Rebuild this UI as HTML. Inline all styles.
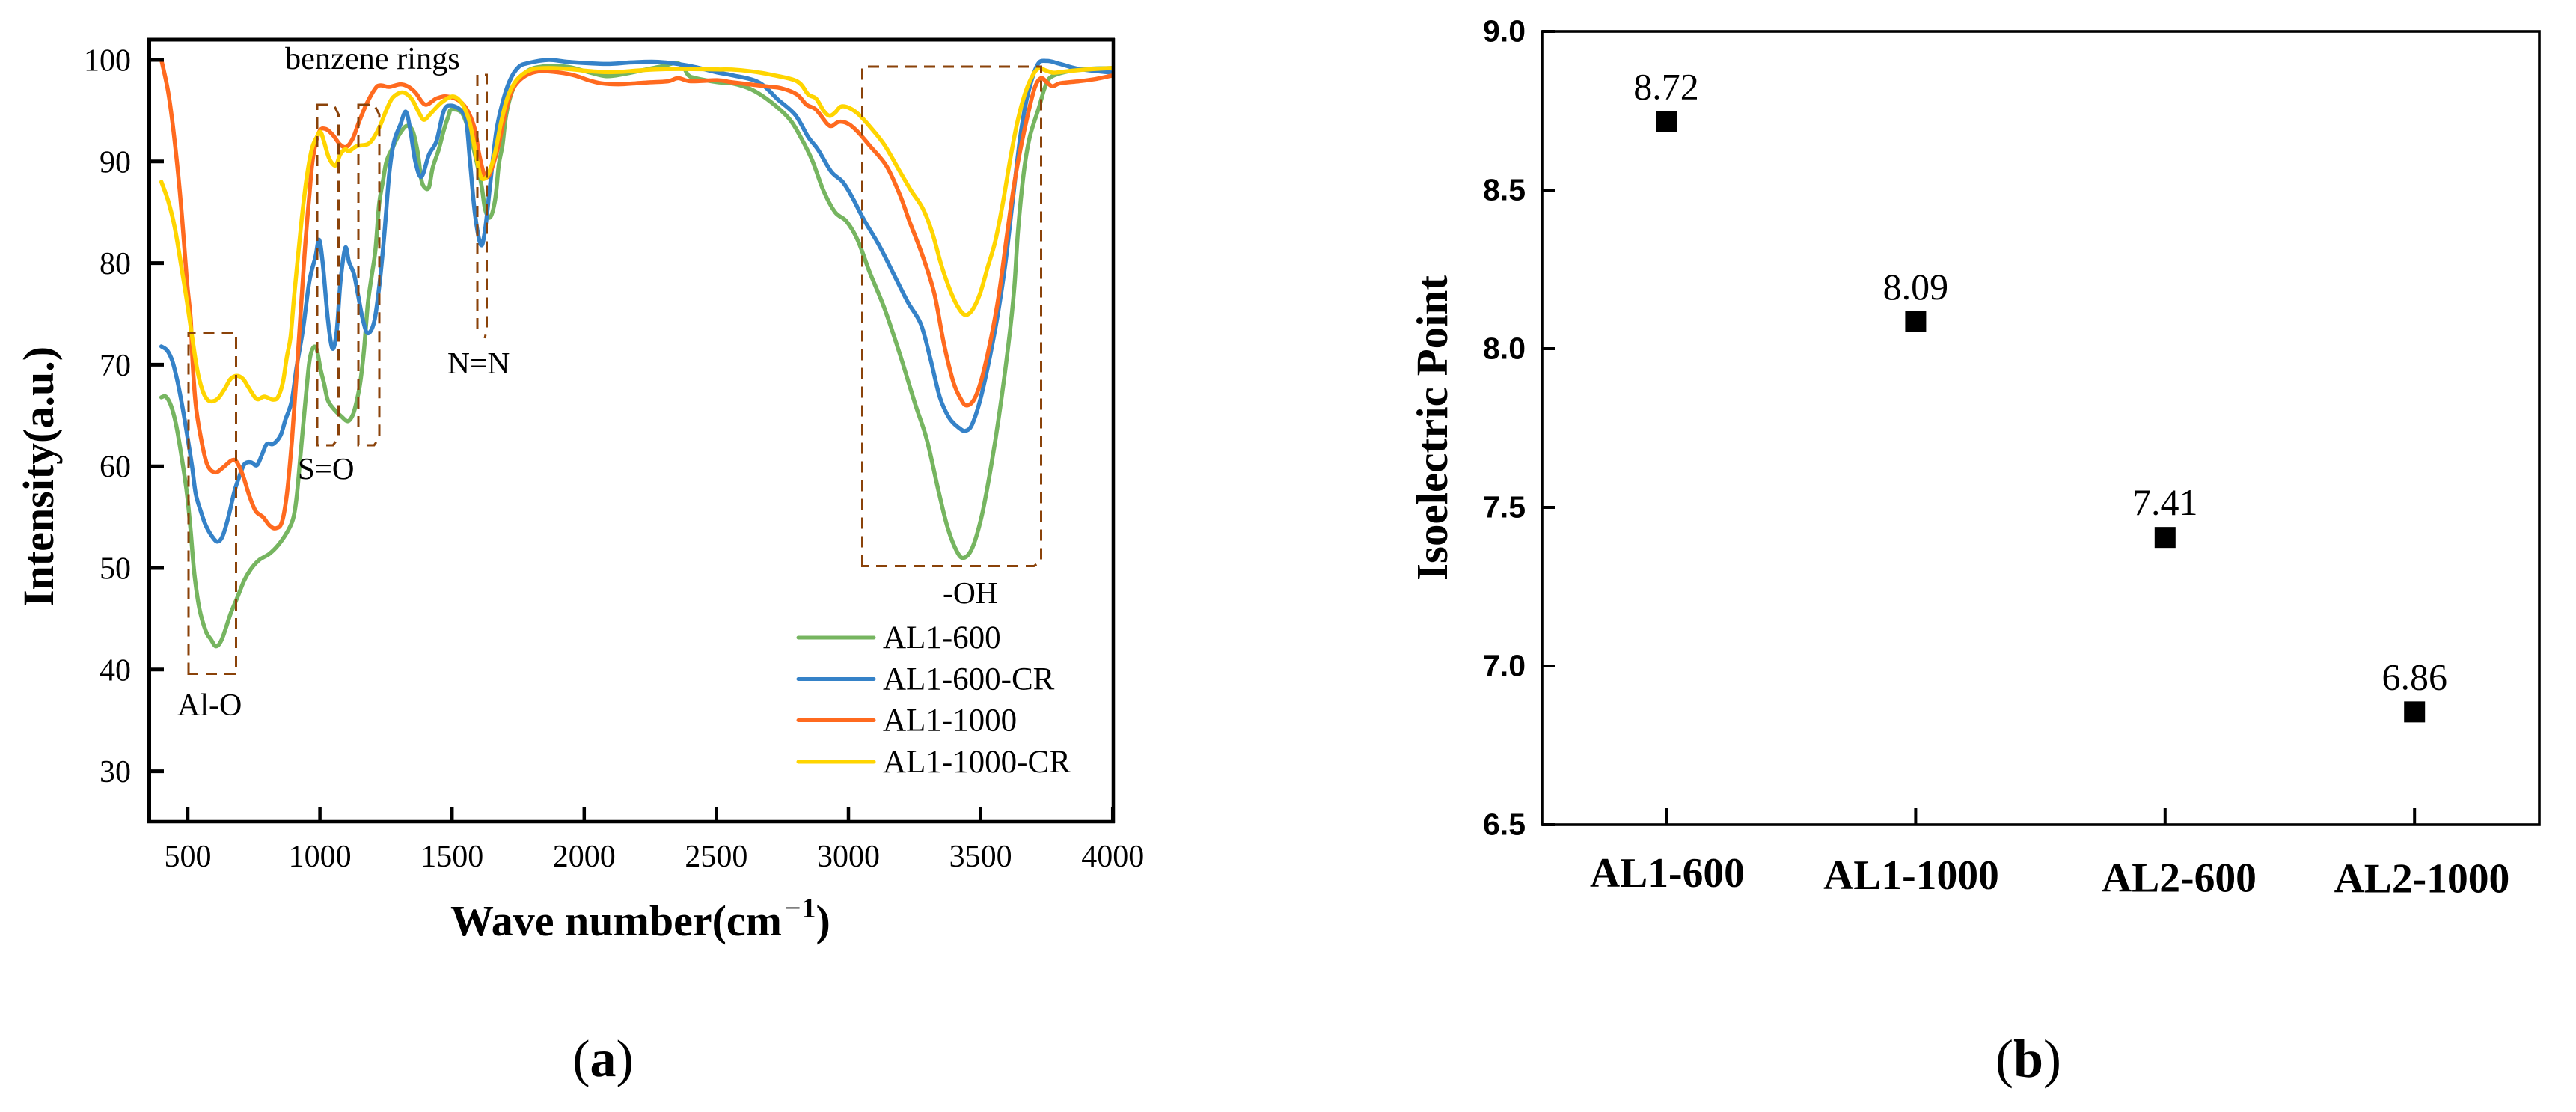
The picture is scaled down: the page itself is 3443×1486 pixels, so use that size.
<!DOCTYPE html>
<html lang="en">
<head>
<meta charset="utf-8">
<title>FTIR spectra and isoelectric point</title>
<style>
  html, body { margin: 0; padding: 0; background: #fff; }
  svg { display: block; }
  text { font-family: "Liberation Serif", serif; fill: #000; }
  .sans { font-family: "Liberation Sans", sans-serif; font-weight: bold; }
  .box { fill: none; stroke: #8a4209; stroke-width: 3; stroke-dasharray: 15 10; }
  .curve { fill: none; stroke-width: 5.5; stroke-linejoin: round; stroke-linecap: round; }
  .axis { stroke: #000; fill: none; }
</style>
</head>
<body>
<svg id="figure" xmlns="http://www.w3.org/2000/svg" width="3443" height="1486" viewBox="0 0 3443 1486">
  <rect x="0" y="0" width="3443" height="1486" fill="#fff"/>

  <g id="panelA">
    <g id="curvesA"></g>
    <g id="ticksA"></g>
    <line class="axis" x1="199" y1="51" x2="199" y2="1100" stroke-width="6"/>
    <line class="axis" x1="196" y1="53" x2="1490" y2="53" stroke-width="5"/>
    <line class="axis" x1="1488" y1="51" x2="1488" y2="1100" stroke-width="4.5"/>
    <line class="axis" x1="196" y1="1098" x2="1490" y2="1098" stroke-width="4.5"/>

    <path class="box" d="M252 900.5 V445 H315.5 V900.5 Z"/>
    <path class="box" d="M424 140 H446 L452.5 153 V585 L445 595 H424 Z"/>
    <path class="box" d="M479 140 H500 L507 153 V585 L500 595 H479 Z"/>
    <path class="box" d="M638 440 V100 H650.5 V440 L648 452"/>
    <path class="box" d="M1152.5 756.5 V89 H1391.5 V750 L1382 756.5 Z"/>

    <text x="381" y="92" font-size="42.3">benzene rings</text>
    <text x="398" y="640" font-size="41">S=O</text>
    <text x="598" y="499" font-size="41.5">N=N</text>
    <text x="237" y="956" font-size="42">Al-O</text>
    <text x="1260" y="806" font-size="41.5">-OH</text>

    <g>
      <line x1="1067" y1="852" x2="1168" y2="852" stroke="#76b560" stroke-width="5" stroke-linecap="round"/>
      <text x="1180" y="866" font-size="43">AL1-600</text>
      <line x1="1067" y1="907.5" x2="1168" y2="907.5" stroke="#3582c8" stroke-width="5" stroke-linecap="round"/>
      <text x="1180" y="921.5" font-size="43">AL1-600-CR</text>
      <line x1="1067" y1="962.5" x2="1168" y2="962.5" stroke="#ff6a1f" stroke-width="5" stroke-linecap="round"/>
      <text x="1180" y="976.5" font-size="43">AL1-1000</text>
      <line x1="1067" y1="1018" x2="1168" y2="1018" stroke="#ffd500" stroke-width="5" stroke-linecap="round"/>
      <text x="1180" y="1032" font-size="43">AL1-1000-CR</text>
    </g>

    <text transform="translate(71 637) rotate(-90)" text-anchor="middle" font-size="58" font-weight="bold">Intensity(a.u.)</text>
    <text x="602" y="1250" font-size="58" font-weight="bold">Wave number(cm<tspan font-size="38" dx="4" dy="-24" font-weight="normal">−</tspan><tspan font-size="38" dx="1" font-weight="bold">1</tspan><tspan dy="24">)</tspan></text>
    <text x="806" y="1438" font-size="70" text-anchor="middle">(<tspan font-weight="bold">a</tspan>)</text>
  </g>

  <g id="panelB">
    <g id="ticksB"></g>
    <rect x="2061" y="42" width="1333" height="1060" fill="none" stroke="#000" stroke-width="3.6"/>
    <g id="marksB"></g>
    <text x="2228.5" y="1185" font-size="55.6" font-weight="bold" text-anchor="middle">AL1-600</text>
    <text x="2554.5" y="1188" font-size="55.6" font-weight="bold" text-anchor="middle">AL1-1000</text>
    <text x="2912.5" y="1191.5" font-size="55.6" font-weight="bold" text-anchor="middle">AL2-600</text>
    <text x="3237" y="1192.5" font-size="55.6" font-weight="bold" text-anchor="middle">AL2-1000</text>
    <text transform="translate(1934 572) rotate(-90)" text-anchor="middle" font-size="59" font-weight="bold">Isoelectric Point</text>
    <text x="2711" y="1439" font-size="72" text-anchor="middle">(<tspan font-weight="bold">b</tspan>)</text>
  </g>
</svg>

<script>
const NS = 'http://www.w3.org/2000/svg';

// Panel (a) data: wave number (cm-1) and intensity (a.u.) per series
const wavesAl1600 = [400,417,436,455,478,497,511,525,544,568,587,607,629,662,686,714,742,771,809,842,875,898,912,926,945,960,974,988,1002,1016,1030,1054,1082,1106,1125,1139,1153,1167,1181,1195,1210,1224,1238,1252,1276,1299,1328,1351,1370,1384,1398,1413,1427,1450,1469,1488,1497,1535,1559,1582,1611,1625,1644,1663,1677,1691,1705,1729,1762,1799,1866,1941,2016,2083,2148,2224,2300,2347,2375,2394,2422,2507,2559,2632,2704,2776,2819,2863,2906,2950,2993,3036,3079,3137,3195,3253,3296,3339,3375,3411,3437,3469,3505,3541,3570,3606,3628,3642,3664,3686,3722,3743,3772,3873,3996];
const valuesAl1600 = [66.8,66.86,66,64.2,60.7,57.3,53.6,49.4,46,43.8,43,42.3,43,45.5,47,48.8,50,50.8,51.4,52.25,53.5,54.8,57,61,66.4,70.3,71.65,71.5,69.6,68.1,66.5,65.6,64.9,64.45,65.1,66.4,68.3,71.5,75.9,78.6,81.3,85.8,88,90,91.4,92.6,93.5,93,90.9,88.2,87.4,87.5,89.4,91.2,93.1,94.6,95.1,94.85,93.4,91.2,87.7,85.3,84.5,86.25,89.7,91.65,94.6,97,98.3,99.1,99.4,99.3,98.8,98.4,98.6,99,99.4,99.7,99.3,98.5,98.2,97.8,97.7,97.1,95.9,94.2,92.4,90.1,87.1,85,84.1,82.2,79.2,75.5,71,66.1,62.7,57.8,54,51.6,51,52,55.2,60.2,65,72.1,77.7,83.3,89,92.4,95.4,97.25,98.4,99.05,99.2];

const wavesAl1600Cr = [400,422,441,459,478,497,516,530,549,568,592,612,631,653,676,695,714,738,761,780,799,823,851,870,893,912,936,960,983,997,1011,1030,1047,1063,1078,1096,1110,1129,1144,1162,1181,1205,1224,1243,1262,1280,1304,1325,1342,1361,1384,1413,1441,1469,1497,1535,1554,1568,1587,1609,1625,1644,1667,1691,1719,1752,1790,1866,1941,2083,2177,2281,2394,2507,2559,2660,2733,2798,2848,2884,2935,2978,3014,3058,3115,3166,3224,3274,3310,3346,3382,3418,3443,3469,3505,3556,3592,3621,3650,3678,3715,3751,3801,3873,3996];
const valuesAl1600Cr = [71.8,71.4,70.4,68.6,66.1,63.2,60,57.3,55.6,54.2,53.1,52.6,53.1,54.95,57.5,59,60.2,60.4,60.1,61.1,62.2,62.2,63.05,64.65,66.4,69.8,73.5,78.2,80.6,82.3,79.9,74.5,71.6,73.2,78.2,81.5,80.1,78.9,76.9,74.5,73.1,74.2,77.6,82.6,88.7,91.9,93.6,94.9,93.1,90,88.5,90.7,92,95,95.5,95,93.9,90,84.8,81.8,83.3,87.7,92.9,95.8,98,99.3,99.7,100,99.8,99.6,99.75,99.8,99.43,98.75,98.5,97.8,96.1,94.6,92.4,91.2,89,88,86.5,84.3,81.8,79.2,76.2,74,70.6,66.8,64.75,63.8,63.5,64.2,67.2,73.6,79.6,86,92.4,96.5,99.5,99.9,99.6,99.1,98.75];

const wavesAl11000 = [400,426,450,474,497,511,518,530,549,573,603,634,667,686,710,733,757,785,809,832,856,875,893,912,941,960,974,997,1021,1049,1077,1101,1125,1148,1177,1210,1229,1262,1304,1332,1361,1398,1441,1479,1526,1559,1587,1601,1622,1639,1658,1677,1700,1724,1752,1790,1837,1894,1960,2017,2064,2130,2196,2252,2318,2356,2403,2507,2559,2689,2747,2805,2841,2877,2920,2938,2964,3000,3036,3079,3144,3195,3231,3281,3325,3361,3397,3426,3447,3476,3505,3541,3570,3599,3628,3657,3686,3707,3729,3751,3772,3801,3873,3931,3996];
const valuesAl11000 = [100,96.8,92.1,85.8,78.2,74.5,70.3,66.1,62.9,60.2,59.4,59.9,60.6,60.4,59,57.1,55.6,55,54.2,53.9,54.5,57.3,62.2,69.1,80.6,86.7,90.4,92.9,93.2,92.6,91.65,91.45,92.3,93.9,95.7,97.2,97.5,97.35,97.6,97.4,96.8,95.6,96.2,96.4,96,95,93.1,90.9,88.7,88.6,89.9,91.7,94.6,96.8,97.9,98.6,98.9,98.8,98.5,98,97.7,97.6,97.7,97.8,97.9,98.2,97.9,98,97.8,97.4,97.2,96.6,95.6,95.1,93.7,93.5,93.9,93.7,92.9,91.6,89.55,86.7,84.1,80.7,77,72.1,68.3,66.6,66,66.6,68.7,72.8,77,82.6,87.9,92,95.4,97.4,98.2,97.8,97.4,97.7,97.9,98.1,98.45];

const wavesAl11000Cr = [400,426,450,474,497,516,535,554,573,592,615,639,662,686,709,728,752,766,790,823,842,860,875,889,903,931,950,969,988,1002,1016,1035,1059,1077,1096,1110,1139,1181,1205,1229,1252,1276,1313,1346,1375,1394,1422,1460,1502,1535,1564,1587,1606,1622,1641,1663,1686,1710,1738,1771,1809,1866,1941,2016,2082,2148,2224,2318,2413,2507,2559,2632,2704,2805,2848,2877,2906,2928,2949,2971,3000,3036,3079,3137,3195,3238,3281,3317,3354,3390,3419,3443,3469,3498,3527,3556,3585,3614,3642,3671,3700,3722,3743,3772,3801,3873,3996];
const valuesAl11000Cr = [88,86.1,83.6,79.9,76.2,72.8,69.6,67.6,66.6,66.4,66.7,67.6,68.6,68.9,68.6,67.84,66.86,66.6,66.86,66.56,66.86,68.3,70.8,72.75,76.9,84.3,88.4,91.2,92.4,92.9,91.9,90.3,89.6,90.7,91.2,91,91.5,91.7,92.4,93.6,95.1,96.3,96.8,96.2,94.8,94.1,94.8,95.8,96.4,95.8,94.1,91.2,88.7,88.3,89,90.9,93.9,96.3,97.8,98.65,99.1,99.2,99.1,98.9,98.8,98.84,99,99.1,99.1,99.06,99.05,98.87,98.56,97.9,96.6,96.2,95,94.5,94.8,95.4,95.3,94.7,93.5,91.6,89,87.1,85.4,83,79.6,77,75.5,74.9,75.4,77,79.6,82.2,86,90.5,94.2,96.9,98.6,99.2,99,98.75,98.8,99,99.2];

const xTickValuesA = [500,1000,1500,2000,2500,3000,3500,4000];
const yTickValuesA = [30,40,50,60,70,80,90,100];

// Panel (b) data
const categoriesB = ['AL1-600','AL1-1000','AL2-600','AL2-1000'];
const isoelectricValues = [8.72,8.09,7.41,6.86];
const isoelectricLabels = ['8.72','8.09','7.41','6.86'];
const yTickValuesB = [6.5,7.0,7.5,8.0,8.5,9.0];
const yTickLabelsB = ['6.5','7.0','7.5','8.0','8.5','9.0'];

// Axis functions
function xA(w) { return 251 + (w - 500) * 0.3532; }
function yA(v) { return 80 + (100 - v) * 13.58; }
function xB(i) { return 2227 + i * 333.4; }
function yB(v) { return 42 + (9 - v) * 424; }

function smoothPath(wavesArr, valuesArr) {
  const n = Math.min(wavesArr.length, valuesArr.length);
  const pts = [];
  for (let i = 0; i < n; i++) {
    pts.push([xA(wavesArr[i]), yA(valuesArr[i])]);
  }
  let d = 'M' + pts[0][0].toFixed(1) + ' ' + pts[0][1].toFixed(1);
  for (let i = 0; i < n - 1; i++) {
    const p0 = pts[Math.max(0, i - 1)];
    const p1 = pts[i];
    const p2 = pts[i + 1];
    const p3 = pts[Math.min(n - 1, i + 2)];
    const c1x = p1[0] + (p2[0] - p0[0]) / 6;
    const c1y = p1[1] + (p2[1] - p0[1]) / 6;
    const c2x = p2[0] - (p3[0] - p1[0]) / 6;
    const c2y = p2[1] - (p3[1] - p1[1]) / 6;
    d += 'C' + c1x.toFixed(1) + ' ' + c1y.toFixed(1) + ' ' + c2x.toFixed(1) + ' ' + c2y.toFixed(1) + ' ' + p2[0].toFixed(1) + ' ' + p2[1].toFixed(1);
  }
  return d;
}

const curvesA = document.getElementById('curvesA');
const ticksA = document.getElementById('ticksA');
const ticksB = document.getElementById('ticksB');
const marksB = document.getElementById('marksB');

function addCurve(wavesArr, valuesArr, color, name) {
  const p = document.createElementNS(NS, 'path');
  p.setAttribute('d', smoothPath(wavesArr, valuesArr));
  p.setAttribute('class', 'curve');
  p.setAttribute('stroke', color);
  
  
  curvesA.appendChild(p);
}
addCurve(wavesAl1600, valuesAl1600, '#76b560', 'curve-al1-600');
addCurve(wavesAl1600Cr, valuesAl1600Cr, '#3582c8', 'curve-al1-600-cr');
addCurve(wavesAl11000, valuesAl11000, '#ff6a1f', 'curve-al1-1000');
addCurve(wavesAl11000Cr, valuesAl11000Cr, '#ffd500', 'curve-al1-1000-cr');

xTickValuesA.forEach(function (w) {
  const l = document.createElementNS(NS, 'line');
  l.setAttribute('x1', xA(w));
  l.setAttribute('x2', xA(w));
  l.setAttribute('y1', 1078);
  l.setAttribute('y2', 1098);
  l.setAttribute('stroke', '#000');
  l.setAttribute('stroke-width', 4.5);
  
  
  ticksA.appendChild(l);
  const t = document.createElementNS(NS, 'text');
  t.setAttribute('x', xA(w));
  t.setAttribute('y', 1158);
  t.setAttribute('font-size', 42);
  t.setAttribute('text-anchor', 'middle');
  
  
  t.textContent = String(w);
  ticksA.appendChild(t);
});

yTickValuesA.forEach(function (v) {
  const l = document.createElementNS(NS, 'line');
  l.setAttribute('x1', 199);
  l.setAttribute('x2', 219);
  l.setAttribute('y1', yA(v));
  l.setAttribute('y2', yA(v));
  l.setAttribute('stroke', '#000');
  l.setAttribute('stroke-width', 5);
  
  
  ticksA.appendChild(l);
  const t = document.createElementNS(NS, 'text');
  t.setAttribute('x', 175);
  t.setAttribute('y', yA(v) + 14.5);
  t.setAttribute('font-size', 42);
  t.setAttribute('text-anchor', 'end');
  
  
  t.textContent = String(v);
  ticksA.appendChild(t);
});

yTickValuesB.forEach(function (v, i) {
  const l = document.createElementNS(NS, 'line');
  l.setAttribute('x1', 2061);
  l.setAttribute('x2', 2078);
  l.setAttribute('y1', yB(v));
  l.setAttribute('y2', yB(v));
  l.setAttribute('stroke', '#000');
  l.setAttribute('stroke-width', 4);
  
  
  ticksB.appendChild(l);
  const t = document.createElementNS(NS, 'text');
  t.setAttribute('x', 2039);
  t.setAttribute('y', yB(v) + 13.5);
  t.setAttribute('font-size', 41);
  t.setAttribute('text-anchor', 'end');
  t.setAttribute('class', 'sans');
  
  
  t.textContent = yTickLabelsB[i];
  ticksB.appendChild(t);
});

categoriesB.forEach(function (c, i) {
  const l = document.createElementNS(NS, 'line');
  l.setAttribute('x1', xB(i));
  l.setAttribute('x2', xB(i));
  l.setAttribute('y1', 1080);
  l.setAttribute('y2', 1102);
  l.setAttribute('stroke', '#000');
  l.setAttribute('stroke-width', 4);
  
  
  ticksB.appendChild(l);
  const r = document.createElementNS(NS, 'rect');
  r.setAttribute('x', xB(i) - 14);
  r.setAttribute('y', yB(isoelectricValues[i]) + 2 - 14);
  r.setAttribute('width', 28);
  r.setAttribute('height', 28);
  r.setAttribute('fill', '#000');
  
  
  marksB.appendChild(r);
  const t = document.createElementNS(NS, 'text');
  t.setAttribute('x', xB(i));
  t.setAttribute('y', yB(isoelectricValues[i]) - 28);
  t.setAttribute('font-size', 50);
  t.setAttribute('text-anchor', 'middle');
  
  
  t.textContent = isoelectricLabels[i];
  marksB.appendChild(t);
});
</script>
</body>
</html>
